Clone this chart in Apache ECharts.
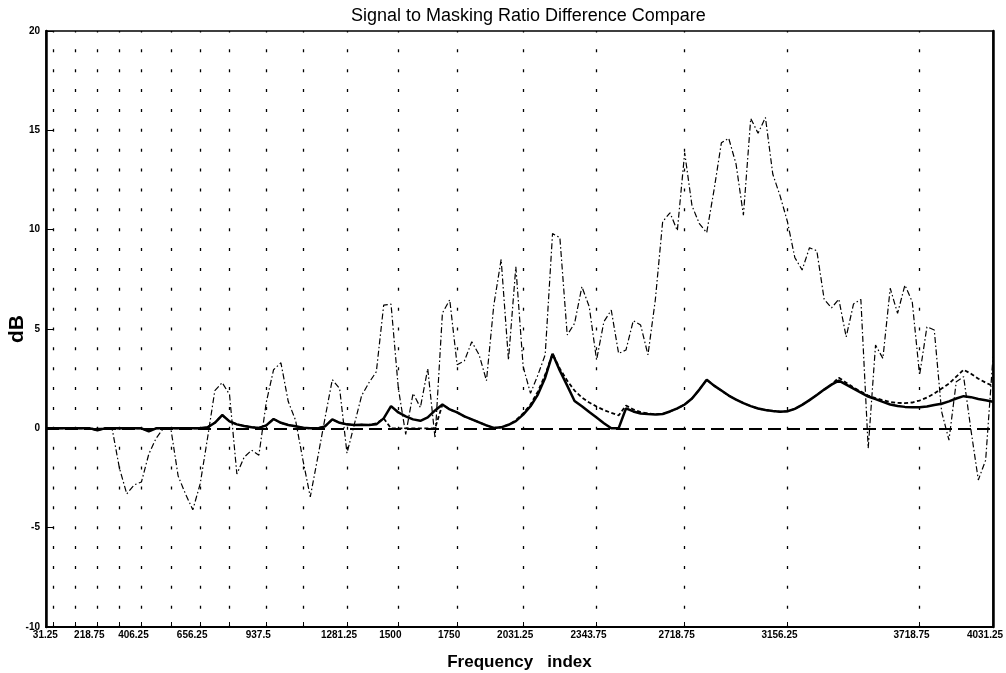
<!DOCTYPE html>
<html>
<head>
<meta charset="utf-8">
<title>Signal to Masking Ratio Difference Compare</title>
<script src="https://cdn.jsdelivr.net/npm/echarts@6/dist/echarts.min.js"></script>
<style>
  html, body { margin: 0; padding: 0; background: #ffffff; }
  #chart { width: 1006px; height: 673px; }
</style>
</head>
<body>
<div id="chart"></div>
<script>
// Spectral bin width of the analysis (Hz per frequency index)
const BIN_HZ = 31.25;

// Critical-band edges used for ticks / dotted grid columns (Hz)
const bandEdgesHz = [31.25, 125, 218.75, 312.5, 406.25, 531.25, 656.25, 781.25, 937.5,
  1093.75, 1281.25, 1500, 1750, 2031.25, 2343.75, 2718.75, 3156.25, 3718.75];

// Labelled frequencies on the horizontal axis (Hz)
const freqLabels = [31.25, 218.75, 406.25, 656.25, 937.5, 1281.25, 1500, 1750,
  2031.25, 2343.75, 2718.75, 3156.25, 3718.75, 4031.25];

// dB range of the vertical axis
const dbMin = -10, dbMax = 20, dbStep = 5;

// SMR difference per frequency bin (dash-dot trace)
const smrDiff = [
  0, 0, 0, 0, 0, 0, 0, 0, 0, 0,
  -2.0, -3.3, -2.85, -2.7, -1.3, -0.5, 0, 0, -2.4, -3.3,
  -4.1, -2.8, -0.5, 1.9, 2.3, 1.7, -2.3, -1.45, -1.1, -1.35,
  1.3, 2.95, 3.3, 1.35, 0.4, -1.6, -3.45, -1.5, 0.5, 2.45,
  2.0, -1.25, 0.2, 1.65, 2.3, 2.85, 6.2, 6.25, 2.0, -0.3,
  1.76, 1.05, 3.0, -0.5, 5.8, 6.47, 3.2, 3.4, 4.36, 3.7,
  2.4, 6.2, 8.5, 3.44, 8.13, 3.1, 1.76, 2.68, 3.7, 9.8,
  9.6, 4.7, 5.28, 7.13, 6.12, 3.44, 5.37, 5.95, 3.77, 3.94,
  5.42, 5.2, 3.7, 6.46, 10.4, 10.85, 9.95, 13.87, 11.2, 10.3,
  9.85, 12.0, 14.37, 14.6, 13.3, 10.73, 15.6, 14.85, 15.65, 12.8,
  11.7, 10.4, 8.6, 7.97, 9.09, 8.94, 6.5, 6.06, 6.5, 4.6,
  6.26, 6.49, -1.0, 4.19, 3.52, 7.05, 5.79, 7.21, 6.37, 2.68,
  5.11, 4.95, 0.84, -0.59, 2.35, 2.6, -0.09, -2.6, -1.6, 3.6
];

// Smoothed difference, model A (thick solid trace)
const smrModelA = [
  0, 0, 0, 0, 0, 0, 0, -0.1, 0, 0,
  0, 0, 0, 0, -0.15, 0, 0, 0, 0, 0,
  0, 0, 0.05, 0.28, 0.67, 0.35, 0.2, 0.12, 0.06, 0.02,
  0.15, 0.47, 0.28, 0.17, 0.1, 0.03, 0, 0, 0.1, 0.45,
  0.28, 0.2, 0.17, 0.18, 0.17, 0.2, 0.5, 1.12, 0.8, 0.6,
  0.45, 0.38, 0.55, 0.9, 1.2, 0.95, 0.8, 0.6, 0.45, 0.3,
  0.15, 0.02, 0.05, 0.18, 0.36, 0.69, 1.11, 1.7, 2.55, 3.75,
  2.9, 2.15, 1.38, 1.11, 0.82, 0.54, 0.26, 0, 0, 1.0,
  0.85, 0.75, 0.72, 0.7, 0.72, 0.85, 1.0, 1.2, 1.5, 1.95,
  2.45, 2.15, 1.9, 1.65, 1.45, 1.27, 1.12, 1.0, 0.92, 0.87,
  0.84, 0.86, 0.98, 1.18, 1.42, 1.68, 1.95, 2.2, 2.4, 2.2,
  2.0, 1.8, 1.6, 1.47, 1.33, 1.2, 1.12, 1.08, 1.06, 1.06,
  1.1, 1.17, 1.24, 1.36, 1.5, 1.62, 1.57, 1.48, 1.41, 1.34
];

// Smoothed difference, model B (short-dash trace)
const smrModelB = [
  0, 0, 0, 0, 0, 0, 0, -0.1, 0, 0,
  0, 0, 0, 0, -0.15, 0, 0, 0, 0, 0,
  0, 0, 0.05, 0.28, 0.67, 0.35, 0.2, 0.12, 0.06, 0.02,
  0.15, 0.47, 0.28, 0.17, 0.1, 0.03, 0, 0, 0.1, 0.45,
  0.28, 0.2, 0.17, 0.18, 0.17, 0.25, 0.5, 0, 0, 0,
  0, 0, 0, 0, 1.2, 0.95, 0.8, 0.6, 0.45, 0.3,
  0.15, 0.02, 0.05, 0.18, 0.4, 0.75, 1.2, 1.85, 2.7, 3.75,
  3.0, 2.4, 1.9, 1.55, 1.3, 1.1, 0.92, 0.78, 0.65, 1.15,
  0.95, 0.82, 0.75, 0.7, 0.72, 0.85, 1.0, 1.2, 1.5, 1.95,
  2.45, 2.15, 1.9, 1.65, 1.45, 1.27, 1.12, 1.0, 0.92, 0.87,
  0.84, 0.86, 0.98, 1.18, 1.42, 1.68, 1.95, 2.2, 2.55, 2.3,
  2.05, 1.85, 1.65, 1.52, 1.42, 1.33, 1.28, 1.27, 1.3, 1.4,
  1.55, 1.75, 2.0, 2.25, 2.6, 2.95, 2.75, 2.5, 2.3, 2.13
];

// Frequency (Hz) of each bin index
const binFreq = smrDiff.map((_, k) => k * BIN_HZ);
const pairs = vals => vals.map((v, k) => [binFreq[k], v]);

const GRID = { left: 46, right: 13, top: 31, bottom: 46 };
const plotH = 673 - GRID.top - GRID.bottom;
const pxPerDb = plotH / (dbMax - dbMin);

const tickFont = {
  fontFamily: '"Liberation Sans Narrow", "Liberation Sans", Arial, sans-serif',
  fontWeight: 'bold',
  fontSize: 10,
  color: '#000'
};

const chart = echarts.init(document.getElementById('chart'), null, { renderer: 'canvas' });

chart.setOption({
  animation: false,
  backgroundColor: '#ffffff',
  title: {
    text: 'Signal to Masking Ratio Difference Compare',
    left: 346,
    top: 2,
    textStyle: {
      fontFamily: '"Liberation Sans", Arial, sans-serif',
      fontWeight: 'normal',
      fontSize: 18,
      color: '#000'
    }
  },
  grid: {
    left: GRID.left, right: GRID.right, top: GRID.top, bottom: GRID.bottom,
    outerBoundsMode: 'none',
    containLabel: false,
    show: true, borderColor: '#000', borderWidth: 1.5, backgroundColor: 'transparent'
  },
  xAxis: {
    type: 'value',
    min: 0,
    max: binFreq[binFreq.length - 1],
    name: 'Frequency   index',
    nameLocation: 'middle',
    nameGap: 27,
    nameMoveOverlap: false,
    nameTextStyle: {
      fontFamily: '"Liberation Sans", Arial, sans-serif',
      fontWeight: 'bold', fontSize: 17, color: '#000'
    },
    axisLine: { show: true, onZero: false, lineStyle: { color: '#000', width: 2 } },
    axisTick: {
      show: true, inside: true, length: 5,
      customValues: bandEdgesHz,
      lineStyle: { color: '#000', width: 1 }
    },
    axisLabel: Object.assign({
      customValues: freqLabels,
      margin: 3,
      padding: [0, 16, 0, 0],
      formatter: v => String(v)
    }, tickFont),
    splitLine: {
      show: true,
      lineStyle: {
        color: '#000', width: 1.3,
        type: [3, pxPerDb - 3],
        dashOffset: 1.5
      }
    }
  },
  yAxis: [{
    type: 'value',
    min: dbMin, max: dbMax, interval: dbStep,
    name: 'dB',
    nameLocation: 'middle',
    nameGap: 18,
    nameMoveOverlap: false,
    nameTextStyle: {
      fontFamily: '"Liberation Sans", Arial, sans-serif',
      fontWeight: 'bold', fontSize: 21, color: '#000'
    },
    axisLine: { show: true, lineStyle: { color: '#000', width: 2.5 } },
    axisTick: { show: true, inside: true, length: 8, lineStyle: { color: '#000', width: 1 } },
    axisLabel: Object.assign({ margin: 6 }, tickFont),
    splitLine: { show: false }
  }, {
    type: 'value',
    position: 'right',
    min: dbMin, max: dbMax, interval: dbStep,
    axisLine: { show: true, lineStyle: { color: '#000', width: 2.5 } },
    axisTick: { show: false },
    axisLabel: { show: false },
    splitLine: { show: false }
  }],
  series: [
    {
      name: 'SMR difference',
      type: 'line',
      data: pairs(smrDiff),
      showSymbol: false,
      lineStyle: { color: '#000', width: 1.2, type: [6, 2.5, 1.5, 2.5] },
      markLine: {
        silent: true,
        symbol: 'none',
        label: { show: false },
        lineStyle: { color: '#000', width: 2, type: [13, 6] },
        data: [{ yAxis: 0 }]
      },
      z: 2
    },
    {
      name: 'Model B',
      type: 'line',
      data: pairs(smrModelB),
      showSymbol: false,
      lineStyle: { color: '#000', width: 1.8, type: [4, 2.5] },
      z: 3
    },
    {
      name: 'Model A',
      type: 'line',
      data: pairs(smrModelA),
      showSymbol: false,
      lineStyle: { color: '#000', width: 2.5, type: 'solid' },
      z: 4
    }
  ]
});
</script>
</body>
</html>
